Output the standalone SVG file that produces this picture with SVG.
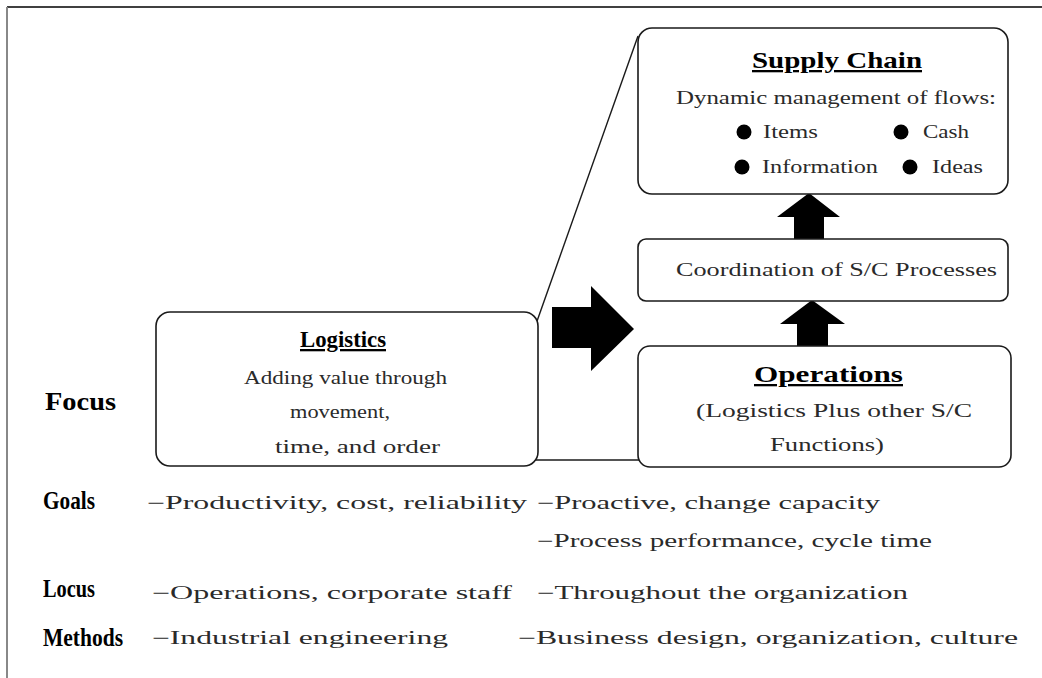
<svg xmlns="http://www.w3.org/2000/svg" width="1042" height="678" viewBox="0 0 1042 678">
<defs>
<style>
.box{fill:#fff;stroke:#1a1a1a;stroke-width:1.6}
.t{font-family:"Liberation Serif","Times New Roman",serif;font-size:18px;fill:#2a2a2a}
.h{font-family:"Liberation Serif","Times New Roman",serif;font-size:23px;font-weight:bold;fill:#000;text-decoration:underline}
.lab{font-family:"Liberation Serif","Times New Roman",serif;font-size:25px;font-weight:bold;fill:#000}
.arrow{fill:#000}
.ln{stroke:#1a1a1a;stroke-width:1.4;fill:none}
</style>
</defs>
<rect width="1042" height="678" fill="#fff"/>
<g id="frame">
<line x1="7" y1="7" x2="1042" y2="7" stroke="#000" stroke-width="1.6"/>
<line x1="7" y1="7" x2="7" y2="678" stroke="#888" stroke-width="2"/>
</g>
<g id="connectors">
<line class="ln" x1="536" y1="324" x2="638" y2="36"/>
<line class="ln" x1="527" y1="460" x2="649" y2="460"/>
<polygon class="arrow" points="552,307 591,307 591,286 634,329 591,371 591,348 552,348"/>
<polygon class="arrow" points="777,217 809,193 840,217 824,217 824,239 794,239 794,217"/>
<polygon class="arrow" points="780,324 812,300 845,324 828,324 828,346 797,346 797,324"/>
</g>
<g id="supply-chain">
<rect class="box" x="638" y="28" width="370" height="166" rx="14"/>
<text class="h" x="752" y="68" textLength="170" lengthAdjust="spacingAndGlyphs">Supply Chain</text>
<text class="t" x="676" y="104" textLength="320" lengthAdjust="spacingAndGlyphs">Dynamic management of flows:</text>
<circle cx="744" cy="132" r="7.5"/>
<text class="t" x="763" y="138" textLength="55" lengthAdjust="spacingAndGlyphs">Items</text>
<circle cx="901" cy="132" r="7.5"/>
<text class="t" x="923" y="138" textLength="46" lengthAdjust="spacingAndGlyphs">Cash</text>
<circle cx="742" cy="167" r="7.5"/>
<text class="t" x="762" y="173" textLength="116" lengthAdjust="spacingAndGlyphs">Information</text>
<circle cx="910" cy="167" r="7.5"/>
<text class="t" x="932" y="173" textLength="51" lengthAdjust="spacingAndGlyphs">Ideas</text>
</g>
<g id="coordination">
<rect class="box" x="638" y="239" width="370" height="62" rx="8"/>
<text class="t" x="676" y="276" textLength="321" lengthAdjust="spacingAndGlyphs">Coordination of S/C Processes</text>
</g>
<g id="logistics">
<rect class="box" x="156" y="312" width="382" height="154" rx="14"/>
<text class="h" x="300" y="347" textLength="86" lengthAdjust="spacingAndGlyphs">Logistics</text>
<text class="t" x="244" y="384" textLength="203" lengthAdjust="spacingAndGlyphs">Adding value through</text>
<text class="t" x="290" y="418" textLength="100" lengthAdjust="spacingAndGlyphs">movement,</text>
<text class="t" x="275" y="453" textLength="165" lengthAdjust="spacingAndGlyphs">time, and order</text>
</g>
<g id="operations">
<rect class="box" x="638" y="346" width="373" height="121" rx="12"/>
<text class="h" x="754" y="382" textLength="149" lengthAdjust="spacingAndGlyphs">Operations</text>
<text class="t" x="696" y="417" textLength="276" lengthAdjust="spacingAndGlyphs">(Logistics Plus other S/C</text>
<text class="t" x="770" y="451" textLength="114" lengthAdjust="spacingAndGlyphs">Functions)</text>
</g>
<g id="row-labels">
<text class="lab" x="45" y="410" font-size="29" textLength="71" lengthAdjust="spacingAndGlyphs">Focus</text>
<text class="lab" x="43" y="509" textLength="52" lengthAdjust="spacingAndGlyphs">Goals</text>
<text class="lab" x="43" y="597" textLength="52" lengthAdjust="spacingAndGlyphs">Locus</text>
<text class="lab" x="43" y="646" textLength="80" lengthAdjust="spacingAndGlyphs">Methods</text>
</g>
<g id="row-items">
<text class="t" x="147" y="509" textLength="380" lengthAdjust="spacingAndGlyphs">−Productivity, cost, reliability</text>
<text class="t" x="537" y="509" textLength="343" lengthAdjust="spacingAndGlyphs">−Proactive, change capacity</text>
<text class="t" x="537" y="547" textLength="395" lengthAdjust="spacingAndGlyphs">−Process performance, cycle time</text>
<text class="t" x="152" y="599" textLength="360" lengthAdjust="spacingAndGlyphs">−Operations, corporate staff</text>
<text class="t" x="537" y="599" textLength="371" lengthAdjust="spacingAndGlyphs">−Throughout the organization</text>
<text class="t" x="152" y="644" textLength="296" lengthAdjust="spacingAndGlyphs">−Industrial engineering</text>
<text class="t" x="518" y="644" textLength="500" lengthAdjust="spacingAndGlyphs">−Business design, organization, culture</text>
</g>
</svg>
